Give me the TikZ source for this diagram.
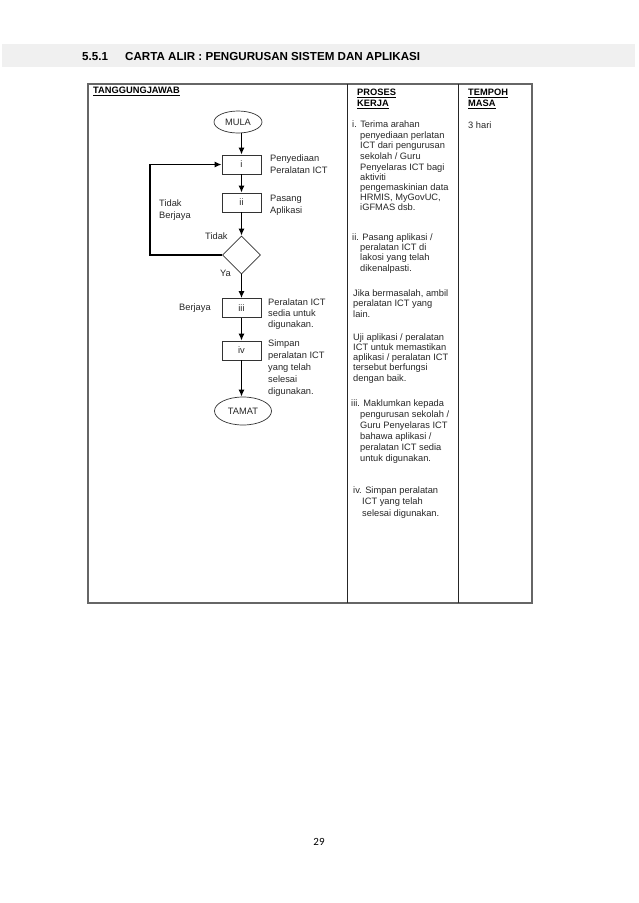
\documentclass[tikz,border=0pt]{standalone}
\usepackage{fontspec}
\setmainfont{Liberation Sans}
\newfontfamily\calib{Carlito}
\usetikzlibrary{arrows.meta,shapes.geometric}
\begin{document}
\begin{tikzpicture}[x=1pt,y=-1pt,
  txt/.style={anchor=base west,inner sep=0pt,font=\fontsize{9.3}{10.4}\selectfont,text=black!85},
  hdr/.style={anchor=base west,inner sep=0pt,font=\bfseries\fontsize{9.3}{10}\selectfont},
  flow/.style={draw=black!80,line width=0.7pt,font=\fontsize{9.3}{10}\selectfont,text=black!85,inner sep=0pt},
  boxn/.style={flow,rectangle,minimum width=39pt,minimum height=19pt},
  arr/.style={line width=1.6pt,-{Latex[length=7pt,width=6pt]}}]
\path[use as bounding box] (0,0) rectangle (638,903);
% header band
\fill[black!6] (2,44) rectangle (635,67);
\node[anchor=base west,inner sep=0pt,font=\bfseries\fontsize{11.6}{13}\selectfont] (num) at (82,60) {5.5.1};
\node[anchor=base west,inner sep=0pt,font=\bfseries\fontsize{11.6}{13}\selectfont] (ttl) at (125,60) {CARTA ALIR : PENGURUSAN SISTEM DAN APLIKASI};
% table
\draw[black!60,line width=1.1pt] (88,84) rectangle (532,603);
\draw[black!85,line width=0.8pt] (347,84) -- (347,603);
\draw[black!85,line width=0.8pt] (458,84) -- (458,603);
% headers
\node[hdr] (h1) at (93,93.5) {\underline{TANGGUNGJAWAB}};
\node[hdr] (h2a) at (357,95.5) {\underline{PROSES}};
\node[hdr] (h2b) at (357,106.5) {\underline{KERJA}};
\node[hdr] (h3a) at (468,95.5) {\underline{TEMPOH}};
\node[hdr] (h3b) at (468,106.5) {\underline{MASA}};
\node[txt] (hari) at (468,128) {3 hari};
% proses kerja text
\node[txt] (p1a) at (352,127.5) {i. Terima arahan};
\node[txt] (p1b) at (360,138) {penyediaan perlatan};
\node[txt] (p1c) at (360,148.5) {ICT dari pengurusan};
\node[txt] (p1d) at (360,159) {sekolah / Guru};
\node[txt] (p1e) at (360,170) {Penyelaras ICT bagi};
\node[txt] (p1f) at (360,180.5) {aktiviti};
\node[txt] (p1g) at (360,190.5) {pengemaskinian data};
\node[txt] (p1h) at (360,200.5) {HRMIS, MyGovUC,};
\node[txt] (p1i) at (360,210.5) {iGFMAS dsb.};
\node[txt] (p2a) at (352,240.5) {ii. Pasang aplikasi /};
\node[txt] (p2b) at (360,250.5) {peralatan ICT di};
\node[txt] (p2c) at (360,260.5) {lakosi yang telah};
\node[txt] (p2d) at (360,271.5) {dikenalpasti.};
\node[txt] (p3a) at (353,296.5) {Jika bermasalah, ambil};
\node[txt] (p3b) at (353,306.5) {peralatan ICT yang};
\node[txt] (p3c) at (353,317.5) {lain.};
\node[txt] (p4a) at (353,340.5) {Uji aplikasi / peralatan};
\node[txt] (p4b) at (353,350.5) {ICT untuk memastikan};
\node[txt] (p4c) at (353,360.5) {aplikasi / peralatan ICT};
\node[txt] (p4d) at (353,370.5) {tersebut berfungsi};
\node[txt] (p4e) at (353,381.5) {dengan baik.};
\node[txt] (p5a) at (351,406.5) {iii. Maklumkan kepada};
\node[txt] (p5b) at (360,417.5) {pengurusan sekolah /};
\node[txt] (p5c) at (360,428.5) {Guru Penyelaras ICT};
\node[txt] (p5d) at (360,439.5) {bahawa aplikasi /};
\node[txt] (p5e) at (360,450.5) {peralatan ICT sedia};
\node[txt] (p5f) at (360,461.5) {untuk digunakan.};
\node[txt] (p6a) at (353,493.5) {iv. Simpan peralatan};
\node[txt] (p6b) at (362,504.5) {ICT yang telah};
\node[txt] (p6c) at (362,516.5) {selesai digunakan.};
% flowchart
\node[flow,ellipse,minimum width=48pt,minimum height=22pt] (mula) at (238,122) {MULA};
\node[boxn] (b1) at (241.5,164.5) {i};
\node[boxn] (b2) at (241.5,202.5) {ii};
\node[flow,diamond,minimum width=38pt,minimum height=38pt] (dec) at (241.5,255) {};
\node[boxn] (b3) at (241.5,308) {iii};
\node[boxn] (b4) at (241.5,350.5) {iv};
\node[flow,ellipse,minimum width=57pt,minimum height=28pt] (tamat) at (243,411) {TAMAT};
\coordinate (lp) at (150,255);
\draw[arr] (mula.south -| b1.north) -- (b1.north);
\draw[arr] (b1.south) -- (b2.north);
\draw[arr] (b2.south) -- (dec.north);
\draw[arr] (dec.south) -- (b3.north);
\draw[arr] (b3.south) -- (b4.north);
\draw[arr] (b4.south) -- (b4.south |- tamat.north);
\draw[arr] (dec.west) -- (lp) |- (b1.west);
% flow labels
\node[txt] (l1) at (270,161.5) {Penyediaan};
\node[txt] (l2) at (270,173.5) {Peralatan ICT};
\node[txt] (l3) at (270,201.5) {Pasang};
\node[txt] (l4) at (270,213.5) {Aplikasi};
\node[txt] (tb1) at (159,206.5) {Tidak};
\node[txt] (tb2) at (159,218.5) {Berjaya};
\node[txt] (td) at (205,239.5) {Tidak};
\node[txt] (ya) at (220,276.5) {Ya};
\node[txt] (bj) at (179,310.5) {Berjaya};
\node[txt] (l5) at (268,305.5) {Peralatan ICT};
\node[txt] (l6) at (268,316.5) {sedia untuk};
\node[txt] (l7) at (268,327.5) {digunakan.};
\node[txt] (l8) at (268,346.5) {Simpan};
\node[txt] (l9) at (268,358.5) {peralatan ICT};
\node[txt] (l10) at (268,370.5) {yang telah};
\node[txt] (l11) at (268,382.5) {selesai};
\node[txt] (l12) at (268,394.5) {digunakan.};
% page number
\node[font=\calib\fontsize{11}{13}\selectfont,inner sep=0pt] (pg) at (319,842) {29};
\end{tikzpicture}
\end{document}
